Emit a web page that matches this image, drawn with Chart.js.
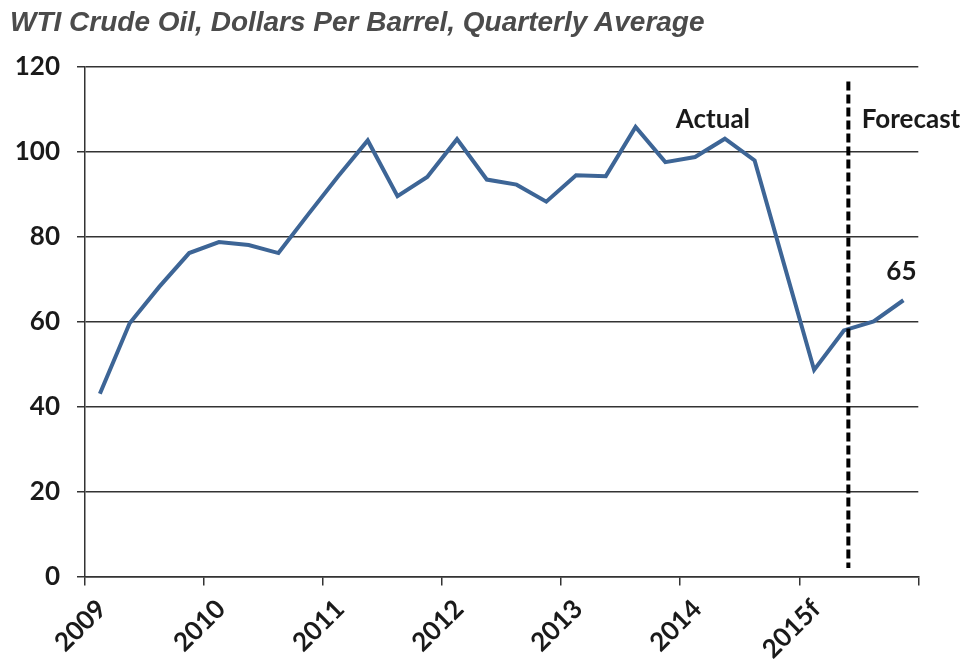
<!DOCTYPE html>
<html>
<head>
<meta charset="utf-8">
<script src="https://cdn.jsdelivr.net/npm/chart.js@4.4.1/dist/chart.umd.min.js"></script>
<style>
  html, body { margin: 0; padding: 0; background: #fff; }
  #wrap { position: relative; width: 971px; height: 663px; overflow: hidden; }
  #title {
    position: absolute; left: 10px; top: 8px;
    font: italic bold 28px "Liberation Sans", Arial, sans-serif;
    line-height: 28px; color: #4b4b4b; white-space: nowrap;
  }
  canvas { position: absolute; left: 0; top: 0; }
</style>
</head>
<body>
<div id="wrap">
  <canvas id="chart" width="971" height="663"></canvas>
  <div id="title">WTI Crude Oil, Dollars Per Barrel, Quarterly Average</div>
</div>
<script>
// Quarterly WTI averages, 2009 Q1 through 2015 Q4 (2015 Q3-Q4 are forecasts)
const quarters = [
  '2009 Q1', '2009 Q2', '2009 Q3', '2009 Q4',
  '2010 Q1', '2010 Q2', '2010 Q3', '2010 Q4',
  '2011 Q1', '2011 Q2', '2011 Q3', '2011 Q4',
  '2012 Q1', '2012 Q2', '2012 Q3', '2012 Q4',
  '2013 Q1', '2013 Q2', '2013 Q3', '2013 Q4',
  '2014 Q1', '2014 Q2', '2014 Q3', '2014 Q4',
  '2015 Q1', '2015 Q2', '2015 Q3', '2015 Q4'
];
const prices = [
  43.0, 59.6, 68.2, 76.1,
  78.7, 78.0, 76.1, 85.2,
  94.1, 102.6, 89.5, 94.0,
  102.9, 93.4, 92.2, 88.2,
  94.4, 94.2, 105.8, 97.5,
  98.7, 103.0, 97.9, 73.2,
  48.6, 57.9, 60.0, 65
];
const yearLabels = ['2009', '2010', '2011', '2012', '2013', '2014', '2015f'];
const yTicks = [0, 20, 40, 60, 80, 100, 120];

// Boundary between actual and forecast quarters, in quarter units
const forecastStart = 25.65;

const inkColor = '#1a1a1a';
const axisColor = '#333333';
const labelFont = { family: 'Lato, "Open Sans", sans-serif', size: 26, weight: 'bold' };

const annotations = {
  id: 'annotations',
  afterDatasetsDraw(chart) {
    const { ctx, scales: { x, y } } = chart;
    ctx.save();
    // dashed divider between actual and forecast
    const dx = x.getPixelForValue(forecastStart);
    ctx.strokeStyle = '#000';
    ctx.lineWidth = 4;
    ctx.setLineDash([9, 4]);
    ctx.beginPath();
    ctx.moveTo(dx, y.getPixelForValue(116.5));
    ctx.lineTo(dx, y.getPixelForValue(2));
    ctx.stroke();
    ctx.setLineDash([]);

    ctx.font = `bold ${labelFont.size}px ${labelFont.family}`;
    ctx.fillStyle = inkColor;
    ctx.textBaseline = 'alphabetic';
    ctx.textAlign = 'center';
    ctx.fillText('Actual', x.getPixelForValue(21.1), y.getPixelForValue(105.5));
    ctx.textAlign = 'left';
    ctx.fillText('Forecast', x.getPixelForValue(26.1), y.getPixelForValue(105.5));

    // value label on the final forecast quarter
    const pts = chart.getDatasetMeta(0).data;
    const last = pts[pts.length - 1];
    ctx.textAlign = 'center';
    ctx.fillText(String(prices[prices.length - 1]), last.x - 2, last.y - 20);
    ctx.restore();
  }
};

new Chart(document.getElementById('chart'), {
  type: 'line',
  data: {
    labels: quarters,
    datasets: [{
      label: 'WTI',
      data: prices.map((p, i) => ({ x: i + 0.5, y: p })),
      borderColor: '#3d6596',
      borderWidth: 4,
      pointRadius: 0,
      tension: 0,
      fill: false
    }]
  },
  options: {
    responsive: false,
    animation: false,
    devicePixelRatio: 1,
    layout: { padding: { top: 66.5, right: 52.7, bottom: 0, left: 0 } },
    plugins: { legend: { display: false }, tooltip: { enabled: false } },
    scales: {
      x: {
        type: 'linear',
        min: 0,
        max: quarters.length,
        afterBuildTicks: (s) => { s.ticks = yearLabels.map((_, i) => ({ value: i * 4 })).concat([{ value: quarters.length }]); },
        afterFit: (s) => { s.height = 86.5; },
        ticks: {
          autoSkip: false,
          minRotation: 45,
          maxRotation: 45,
          color: inkColor,
          font: labelFont,
          padding: 8,
          labelOffset: 17,
          callback: (v) => yearLabels[v / 4] ?? ''
        },
        grid: { drawOnChartArea: false, drawTicks: true, tickLength: 9, color: axisColor, lineWidth: 1.5 },
        border: { display: true, color: axisColor, width: 1.5 }
      },
      y: {
        min: 0,
        max: 120,
        afterBuildTicks: (s) => { s.ticks = yTicks.map(v => ({ value: v })); },
        afterFit: (s) => { s.width = 85; },
        ticks: { color: inkColor, font: labelFont, padding: 17 },
        grid: { color: axisColor, lineWidth: 1.5, tickLength: 8 },
        border: { display: true, color: axisColor, width: 1.5 }
      }
    }
  },
  plugins: [annotations]
});
</script>
</body>
</html>
